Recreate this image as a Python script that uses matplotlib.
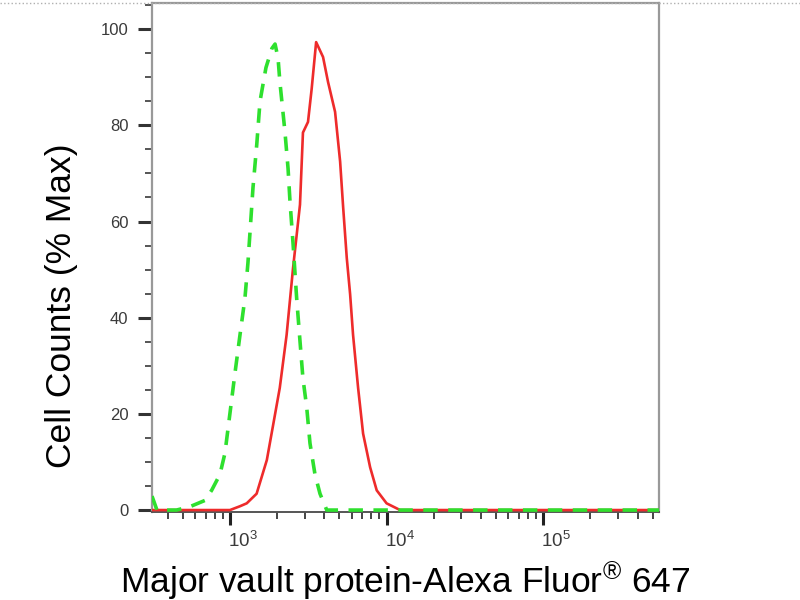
import matplotlib
matplotlib.use("Agg")
import matplotlib.pyplot as plt
from matplotlib.ticker import MultipleLocator, LogLocator, NullFormatter, LogFormatterSciNotation
from matplotlib.transforms import ScaledTranslation
from matplotlib.lines import Line2D

plt.rcParams['font.family'] = ['Liberation Sans', 'DejaVu Sans']
plt.rcParams['mathtext.fontset'] = 'custom'
plt.rcParams['mathtext.rm'] = 'Liberation Sans'
plt.rcParams['mathtext.it'] = 'Liberation Sans:italic'
plt.rcParams['mathtext.bf'] = 'Liberation Sans:bold'

# stained sample (red, solid)
red_x = [318, 643, 1000, 1160, 1280, 1480, 1720, 1880, 2080, 2300, 2530, 2800,
         2925, 3150, 3325, 3550, 3930, 4230, 4690, 5050, 5280, 5570, 5850, 6110,
         6580, 7080, 7850, 8650, 10000, 12200, 550000]
red_y = [0, 0, 0, 0.8, 1.4, 3.4, 10.4, 17.4, 25.4, 36.4, 50.4, 63.5,
         78.5, 80.7, 87.6, 97.3, 94.2, 89, 82.8, 72.5, 63, 52.4, 44.9, 36.4,
         25.4, 15.9, 8.9, 4.1, 1.4, 0, 0]

# isotype control (green, dashed)
green_x = [318, 342, 456, 555, 692, 764, 863, 929, 1000, 1076, 1159, 1247, 1303,
           1403, 1483, 1556, 1698, 1854, 1941, 2028, 2084, 2244, 2350, 2415, 2529,
           2667, 2799, 2924, 3090, 3243, 3491, 3758, 4150, 550000]
green_y = [2.9, 0, 0, 0.7, 2, 4.1, 7.4, 11.8, 20.1, 28.4, 36.4, 44.1, 51.4,
           67, 76, 85, 92, 96, 96.9, 94, 89, 78.7, 71, 64.4, 55.4,
           44, 35.2, 27.4, 21.4, 13.9, 7.4, 3.4, 0, 0]

y_major = [0, 20, 40, 60, 80, 100]

fig = plt.figure(figsize=(8, 6), dpi=100)
ax = fig.add_axes([0.19, 0.1467, 0.634, 0.848])

ax.plot(red_x, red_y, color='#ee2b2b', lw=1.9, zorder=3)
ax.plot(green_x, green_y, color='#2ee02e', lw=2.6, linestyle=(0, (4.0, 2.9)), zorder=4)

ax.set_xscale('log')
ax.set_xlim(318, 550000)
ax.set_ylim(-0.4, 105.4)

ax.set_yticks(y_major)
ax.yaxis.set_minor_locator(MultipleLocator(5))
ax.xaxis.set_major_locator(LogLocator(base=10, numticks=10))
ax.xaxis.set_minor_locator(LogLocator(base=10, subs=[2, 3, 4, 5, 6, 7, 8, 9], numticks=20))
ax.xaxis.set_major_formatter(LogFormatterSciNotation())
ax.xaxis.set_minor_formatter(NullFormatter())

ax.tick_params(axis='y', which='major', direction='out', length=10, width=2.2,
               color='#333333', labelsize=12, labelcolor='#3a3a3a', pad=7)
ax.tick_params(axis='y', which='minor', direction='out', length=5, width=1.4, color='#555555')
ax.tick_params(axis='x', which='major', direction='out', length=9.5, width=2.2,
               color='#222222', labelsize=13.5, labelcolor='#3a3a3a', pad=4)
ax.tick_params(axis='x', which='minor', direction='out', length=5, width=1.4, color='#444444')

fig.canvas.draw()
shift = ScaledTranslation(0.13, 0, fig.dpi_scale_trans)
for lab in ax.get_xticklabels():
    lab.set_transform(lab.get_transform() + shift)

for side in ['left', 'right', 'top']:
    ax.spines[side].set_color('#999999')
    ax.spines[side].set_linewidth(1.6)
ax.spines['bottom'].set_color('#555555')
ax.spines['bottom'].set_linewidth(1.4)

# faint dotted frame line across the top of the picture
fig.add_artist(Line2D([0, 1], [0.995, 0.995], transform=fig.transFigure,
                      color='#b0b0b0', lw=1, linestyle=':'))

fig.text(62 / 800, 1 - 306 / 600, 'Cell Counts (% Max)', rotation=90,
         ha='center', va='center', fontsize=25.5, color='black')
fig.text(405 / 800, 1 - 592 / 600, 'Major vault protein-Alexa Fluor$^{\\mathregular{®}}$ 647',
         ha='center', va='baseline', fontsize=25.5, color='black')

fig.savefig('out.png', dpi=100)
